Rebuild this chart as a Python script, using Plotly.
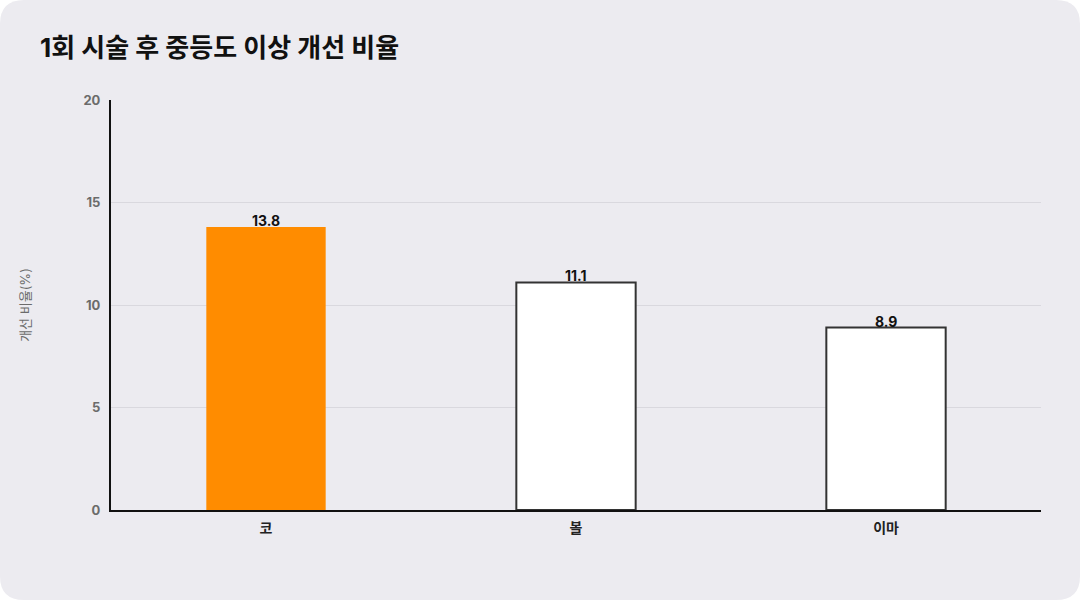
import plotly.graph_objects as go

# Data
categories = ["코", "볼", "이마"]
values = [13.8, 11.1, 8.9]
bar_colors = ["#FF8C00", "#FFFFFF", "#FFFFFF"]
line_colors = ["#FF8C00", "#333333", "#333333"]
line_widths = [0, 2, 2]
y_ticks = [0, 5, 10, 15, 20]

title_text = "1회 시술 후 중등도 이상 개선 비율"
y_title = "개선 비율(%)"

font_family = "Inter, 'Noto Sans CJK KR', sans-serif"

# Figure geometry (pixels)
W, H = 1080, 600
ml, mr, mt, mb = 111, 39, 100, 90
pw, ph = W - ml - mr, H - mt - mb


def px_x(x):
    return (x - ml) / pw


def px_y(y):
    return (H - mb - y) / ph


# Rounded card behind everything
r = 24
x0, x1 = px_x(0), px_x(W)
y0, y1 = px_y(H), px_y(0)
rx, ry = r / pw, r / ph
card_path = (
    f"M {x0 + rx} {y1} L {x1 - rx} {y1} Q {x1} {y1} {x1} {y1 - ry} "
    f"L {x1} {y0 + ry} Q {x1} {y0} {x1 - rx} {y0} "
    f"L {x0 + rx} {y0} Q {x0} {y0} {x0} {y0 + ry} "
    f"L {x0} {y1 - ry} Q {x0} {y1} {x0 + rx} {y1} Z"
)

fig = go.Figure()
fig.add_trace(go.Bar(
    x=categories,
    y=values,
    width=0.385,
    marker=dict(color=bar_colors, line=dict(color=line_colors, width=line_widths)),
    hoverinfo="x+y",
))

# value labels sitting right on top of the bars
for c, v in zip(categories, values):
    fig.add_annotation(
        x=c, y=v, text=f"{v:.1f}", showarrow=False,
        yanchor="bottom", yshift=-4,
        font=dict(family=font_family, size=14, color="#111111", weight="bold"),
    )

fig.update_layout(
    width=W,
    height=H,
    margin=dict(l=ml, r=mr, t=mt, b=mb),
    paper_bgcolor="#FFFFFF",
    plot_bgcolor="rgba(0,0,0,0)",
    showlegend=False,
    font=dict(family=font_family),
    title=dict(
        text=title_text,
        x=40 / W, xanchor="left",
        y=1 - 48 / H, yanchor="middle",
        font=dict(family=font_family, size=26, color="#111111", weight="bold"),
    ),
    shapes=[dict(
        type="path", path=card_path, xref="paper", yref="paper",
        fillcolor="#ECEBF0", line=dict(width=0), layer="below",
    )],
    xaxis=dict(
        showline=True, linecolor="#111111", linewidth=2,
        showgrid=False, ticks="", ticklabelstandoff=4,
        tickfont=dict(family=font_family, size=14, color="#222222", weight="bold"),
    ),
    yaxis=dict(
        range=[0, 20], tickvals=y_ticks,
        showline=True, linecolor="#111111", linewidth=2,
        showgrid=True, gridcolor="#D9D8DE", gridwidth=1,
        zeroline=False, ticks="", ticklabelstandoff=6,
        tickfont=dict(family=font_family, size=13, color="#6B6B6B", weight="bold"),
        title=dict(text=y_title, standoff=50,
                   font=dict(family=font_family, size=13, color="#6B6B6B")),
    ),
)

fig.write_html("out.html", config={"displayModeBar": False},
               post_script="document.body.style.margin='0';")
